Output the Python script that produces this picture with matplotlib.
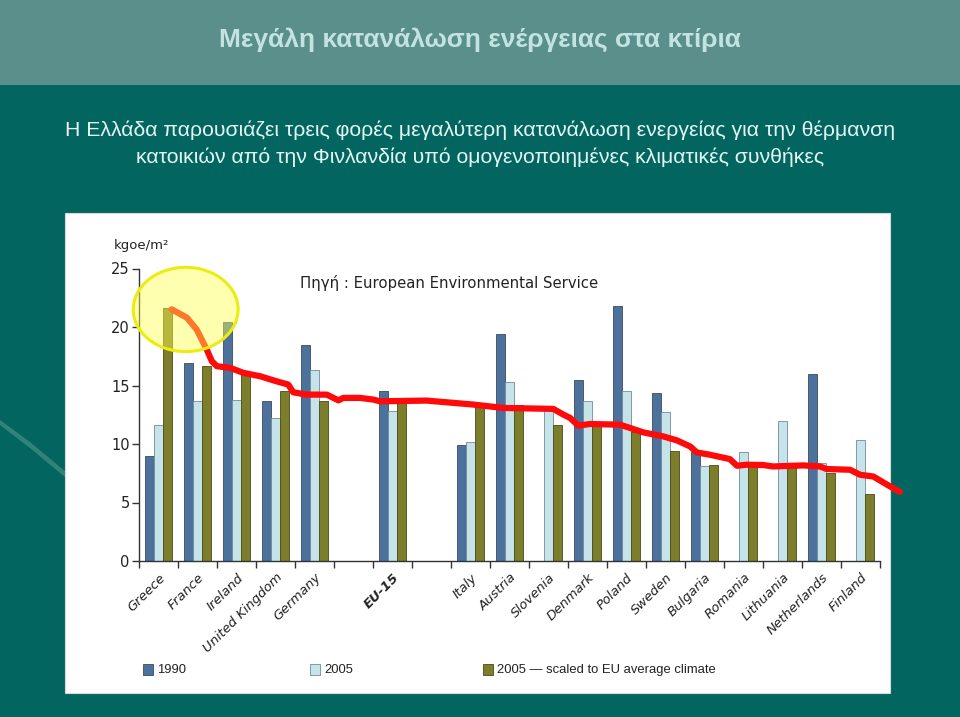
import matplotlib
matplotlib.use('Agg')
import matplotlib.pyplot as plt
from matplotlib.patches import Rectangle, Ellipse, Polygon
import matplotlib.transforms as mtransforms
import numpy as np

nan = np.nan
categories = ['Greece', 'France', 'Ireland', 'United Kingdom', 'Germany', '',
              'EU-15', '', 'Italy', 'Austria', 'Slovenia', 'Denmark', 'Poland',
              'Sweden', 'Bulgaria', 'Romania', 'Lithuania', 'Netherlands', 'Finland']
v1990 = [9.0, 16.9, 20.4, 13.7, 18.5, nan, 14.5, nan, 9.9, 19.4, nan, 15.5, 21.8,
         14.4, 9.3, nan, nan, 16.0, nan]
v2005 = [11.6, 13.7, 13.8, 12.2, 16.3, nan, 12.8, nan, 10.2, 15.3, 12.9, 13.7, 14.5,
         12.7, 8.1, 9.3, 12.0, 8.4, 10.3]
v2005_scaled = [21.6, 16.7, 15.9, 14.5, 13.7, nan, 13.5, nan, 13.2, 13.3, 11.6, 11.5,
                11.0, 9.4, 8.2, 8.1, 8.0, 7.5, 5.7]
yticks = [0, 5, 10, 15, 20, 25]
legend_labels = ['1990', '2005', '2005 \u2014 scaled to EU average climate']

# hand-drawn red annotation line (data coords)
red_x = [0.33, 0.72, 0.97, 1.23, 1.36, 1.49, 1.83, 2.17, 2.60, 3.02, 3.32, 3.45, 3.79,
         4.31, 4.48, 4.61, 4.73, 5.16, 5.50, 5.67, 6.87, 8.07, 8.84, 10.12, 10.38, 10.55,
         10.76, 11.06, 11.83, 12.09, 12.43, 12.94, 13.29, 13.63, 13.80, 14.14, 14.65,
         14.83, 15.08, 15.51, 15.76, 16.53, 16.96, 17.13, 17.73, 17.99, 18.33, 18.76, 19.01]
red_y = [21.51, 20.80, 19.79, 18.08, 17.08, 16.65, 16.51, 16.08, 15.79, 15.36, 15.08,
         14.42, 14.22, 14.22, 13.94, 13.73, 13.94, 13.94, 13.80, 13.65, 13.71, 13.37,
         13.08, 13.00, 12.51, 12.23, 11.57, 11.71, 11.65, 11.37, 10.99, 10.65, 10.31,
         9.79, 9.28, 9.08, 8.71, 8.14, 8.23, 8.20, 8.08, 8.17, 8.08, 7.86, 7.80, 7.37,
         7.22, 6.37, 5.91]

title = 'Μεγάλη κατανάλωση ενέργειας στα κτίρια'
sub1 = 'Η Ελλάδα παρουσιάζει τρεις φορές μεγαλύτερη κατανάλωση ενεργείας για την θέρμανση'
sub2 = 'κατοικιών από την Φινλανδία υπό ομογενοποιημένες κλιματικές συνθήκες'
source = 'Πηγή : European Environmental Service'
unit = 'kgoe/m\u00b2'

W, H = 960, 717
fig = plt.figure(figsize=(W / 100, H / 100), dpi=100)
fig.patch.set_facecolor('#03655f')

def fx(x):
    return x / W

def fy(y):
    return 1 - y / H

# top band
fig.patches.append(Rectangle((0, fy(85)), 1, 85 / H, transform=fig.transFigure,
                             facecolor='#5a8f8c', edgecolor='none', zorder=-3))
# decorative swoosh on the left
fig.patches.append(Polygon([(fx(0), fy(425)), (fx(30), fy(448)), (fx(66), fy(478)),
                            (fx(66), fy(472)), (fx(30), fy(442)), (fx(0), fy(420))],
                           closed=True, transform=fig.transFigure,
                           facecolor='#3f8a84', edgecolor='none', alpha=0.8, zorder=-3))
# white chart panel
fig.patches.append(Rectangle((fx(65), fy(693)), 825 / W, 480 / H, transform=fig.transFigure,
                             facecolor='white', edgecolor='#d8d8d8', lw=0.8, zorder=-2))

renderer = fig.canvas.get_renderer()

def fit_text(xpos, ypos, s, target_w, base, ha='center', **kw):
    t = fig.text(xpos, ypos, s, ha=ha, va='center', fontsize=base, **kw)
    w = t.get_window_extent(renderer).width
    t.set_fontsize(base * target_w / w)
    return t

sans = ['Liberation Sans', 'DejaVu Sans']
fit_text(fx(480), fy(40), title, 524, 18, color='#c2e3df', fontweight='bold', family=sans)
fit_text(fx(480), fy(130), sub1, 834, 15, color='#e4f6f4', family=sans)
fit_text(fx(480), fy(157), sub2, 691, 15, color='#e4f6f4', family=sans)

ax = fig.add_axes([fx(139.3), fy(561), (880 - 139.3) / W, (561 - 268.5) / H])
ax.set_zorder(2)
ax.set_facecolor('none')
n = len(categories)
x = np.arange(n)
bw = 0.231
c1990, c2005, cscaled = '#4d719d', '#c6e3ea', '#7c7e2b'
edge = '#3b4b5c'
ax.bar(x - bw, v1990, bw, color=c1990, edgecolor=edge, linewidth=0.6, zorder=2)
ax.bar(x, v2005, bw, color=c2005, edgecolor='#6d8c9a', linewidth=0.6, zorder=2)
ax.bar(x + bw, v2005_scaled, bw, color=cscaled, edgecolor='#4a4b1a', linewidth=0.6, zorder=2)

ax.set_xlim(-0.5, n - 0.5)
ax.set_ylim(0, 25)
for s in ['top', 'right']:
    ax.spines[s].set_visible(False)
for s in ['left', 'bottom']:
    ax.spines[s].set_color('#333333')
    ax.spines[s].set_linewidth(1.0)
ax.set_yticks(yticks)
ax.tick_params(axis='y', direction='out', length=5, width=1, color='#333333',
               labelsize=10.5, labelcolor='#222222', pad=2)
ax.set_xticks(np.arange(-0.5, n, 1.0))
ax.set_xticklabels([])
ax.tick_params(axis='x', direction='out', length=5, width=1, color='#333333')

trans = mtransforms.blended_transform_factory(ax.transData, ax.transAxes)
off = mtransforms.ScaledTranslation(0 / 100, -10 / 100, fig.dpi_scale_trans)
for i, lab in enumerate(categories):
    if not lab:
        continue
    ax.text(i, 0, lab, transform=trans + off, rotation=45, rotation_mode='anchor',
            ha='right', va='top', fontsize=9.5, style='italic', color='#222222',
            fontweight='bold' if lab == 'EU-15' else 'normal')

fig.text(fx(141), fy(246), unit, ha='center', va='center', fontsize=9.5, color='#222222')
fit_text(fx(300), fy(283), source, 297, 10, ha='left', color='#222222')

ax.plot(red_x, red_y, color='#ff0a0a', lw=4.5, solid_capstyle='round',
        solid_joinstyle='round', clip_on=False, zorder=4)
ax.add_patch(Ellipse((0.69, 21.5), 2.69, 7.2, facecolor='#ffff50', alpha=0.45,
                     edgecolor='none', clip_on=False, zorder=5))
ax.add_patch(Ellipse((0.69, 21.5), 2.69, 7.2, facecolor='none', edgecolor='#ecec10',
                     lw=2.2, clip_on=False, zorder=5))

# legend
leg_x = [143, 310, 483]
leg_c = [c1990, c2005, cscaled]
leg_e = [edge, '#6d8c9a', '#4a4b1a']
probe = fig.text(0, 0, legend_labels[2], fontsize=9, family=sans)
leg_fs = 9 * 219 / probe.get_window_extent(renderer).width
probe.remove()
for lx, lab, c, e in zip(leg_x, legend_labels, leg_c, leg_e):
    fig.patches.append(Rectangle((fx(lx), fy(675)), 10 / W, 11 / H, transform=fig.transFigure,
                                 facecolor=c, edgecolor=e, lw=0.6, zorder=3))
    fig.text(fx(lx + 14), fy(670), lab, ha='left', va='center', fontsize=leg_fs,
             color='#222222', family=sans)

fig.savefig('out.png', dpi=100, facecolor=fig.get_facecolor())
